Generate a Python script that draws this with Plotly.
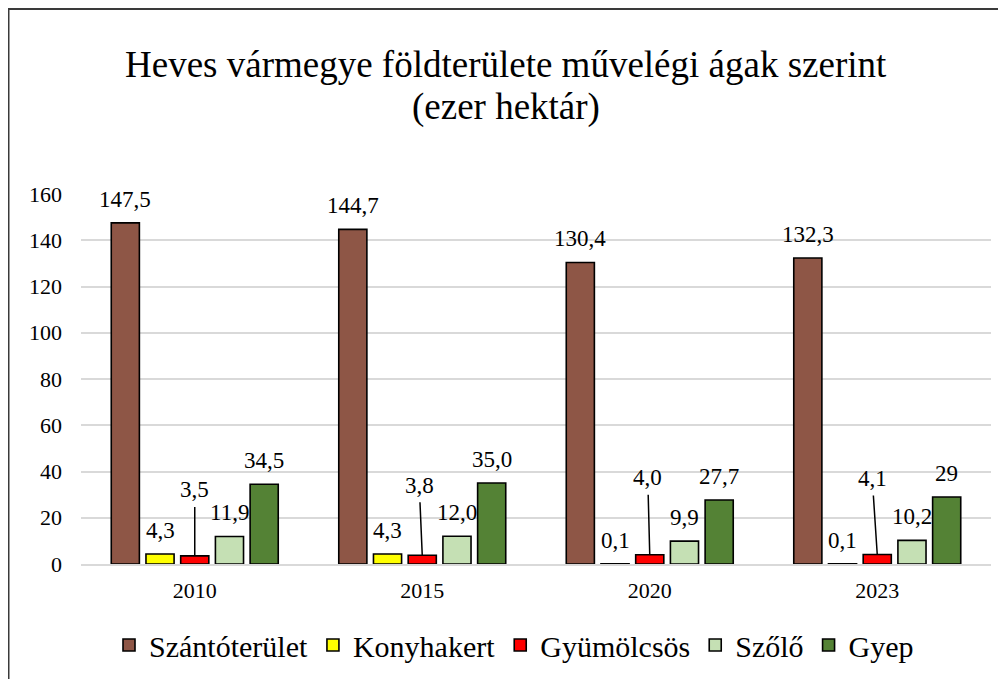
import plotly.graph_objects as go

years = ["2010", "2015", "2020", "2023"]
series_names = ["Szántóterület", "Konyhakert", "Gyümölcsös", "Szőlő", "Gyep"]
szanto = [147.5, 144.7, 130.4, 132.3]
konyha = [4.3, 4.3, 0.1, 0.1]
gyumolcs = [3.5, 3.8, 4.0, 4.1]
szolo = [11.9, 12.0, 9.9, 10.2]
gyep = [34.5, 35.0, 27.7, 29.0]

szanto_lbl = ["147,5", "144,7", "130,4", "132,3"]
konyha_lbl = ["4,3", "4,3", "0,1", "0,1"]
gyumolcs_lbl = ["3,5", "3,8", "4,0", "4,1"]
szolo_lbl = ["11,9", "12,0", "9,9", "10,2"]
gyep_lbl = ["34,5", "35,0", "27,7", "29"]

y_ticks = [0, 20, 40, 60, 80, 100, 120, 140, 160]

title_line1 = "Heves vármegye földterülete művelégi ágak szerint"
title_line2 = "(ezer hektár)"

values = [szanto, konyha, gyumolcs, szolo, gyep]
labels = [szanto_lbl, konyha_lbl, gyumolcs_lbl, szolo_lbl, gyep_lbl]
colors = ["#8E5646", "#FFFF00", "#FF0000", "#C5E0B4", "#548235"]

FONT = "Liberation Serif"
BARGAP = 0.237
W, H = 998, 671
L, R, T, B = 73, 15, 186, 115
PW = W - L - R
PH = H - T - B

fig = go.Figure()
for name, vals, col in zip(series_names, values, colors):
    fig.add_trace(go.Bar(
        x=years, y=vals, name=name,
        marker=dict(color=col, line=dict(color="black", width=1.6)),
        hoverinfo="skip",
    ))

annotations = []
pitch = (1 - BARGAP) / len(series_names)
# Red (Gyümölcsös) labels with leader lines
red_ax = [0, -3, -2, -5]
red_ay = [-66, -70, -77, -76]
for j, (vals, lbls) in enumerate(zip(values, labels)):
    for i, (v, t) in enumerate(zip(vals, lbls)):
        xpos = i + (j - 2) * pitch
        if j == 2:
            annotations.append(dict(
                x=xpos, y=v, xref="x", yref="y", text=t,
                showarrow=True, arrowhead=0, arrowwidth=1.5, arrowcolor="black",
                ax=red_ax[i], ay=red_ay[i], standoff=0, startstandoff=3,
                font=dict(family=FONT, size=23, color="black"),
            ))
        else:
            annotations.append(dict(
                x=xpos, y=v, xref="x", yref="y", text=t, showarrow=False,
                yanchor="bottom", yshift=9,
                font=dict(family=FONT, size=23, color="black"),
            ))

# title lines
for txt, py in [(title_line1, 56), (title_line2, 99)]:
    annotations.append(dict(
        x=(498 - L) / PW, y=(T + PH - py) / PH, xref="paper", yref="paper",
        text=txt, showarrow=False, xanchor="center", yanchor="middle", borderpad=0,
        font=dict(family=FONT, size=37, color="black"),
    ))

fig.update_layout(
    width=W, height=H,
    margin=dict(l=L, r=R, t=T, b=B),
    paper_bgcolor="white", plot_bgcolor="white",
    barmode="group", bargap=BARGAP, bargroupgap=0.19,
    font=dict(family=FONT, color="black"),
    legend=dict(
        orientation="h", x=(506 - L) / PW, xanchor="center", yref="container",
        y=(H - 637) / H, yanchor="middle",
        font=dict(family=FONT, size=30, color="black"),
        itemwidth=30, traceorder="normal",
    ),
    annotations=annotations,
    shapes=[
        dict(type="line", xref="paper", yref="paper", x0=-L / PW, x1=2,
             y0=(PH + T - 1) / PH, y1=(PH + T - 1) / PH, line=dict(color="#3A3A3A", width=2)),
        dict(type="line", xref="paper", yref="paper", x0=(0.5 - L) / PW, x1=(0.5 - L) / PW,
             y0=-1, y1=(PH + T - 1) / PH, line=dict(color="#3A3A3A", width=2)),
    ],
)
fig.update_yaxes(
    range=[0, 160], tickvals=y_ticks, showgrid=True, gridcolor="#D9D9D9", gridwidth=1.5,
    zeroline=False, showline=False, tickfont=dict(family=FONT, size=22, color="black"),
    ticklabelstandoff=18,
)
fig.update_xaxes(
    showline=True, linecolor="#D9D9D9", linewidth=1.5,
    tickfont=dict(family=FONT, size=22, color="black"),
    ticks="outside", ticklen=6, tickcolor="rgba(0,0,0,0)",
)
fig.write_html("out.html")
